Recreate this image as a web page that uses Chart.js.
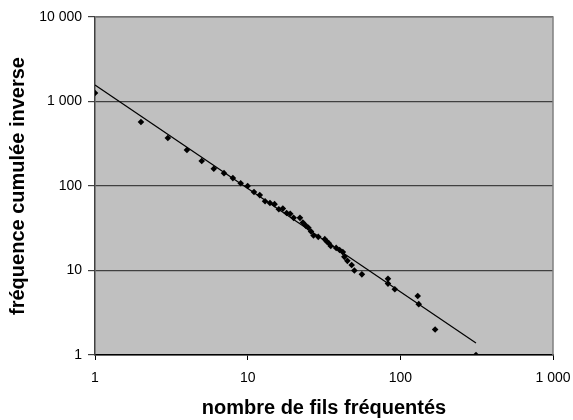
<!DOCTYPE html>
<html>
<head>
<meta charset="utf-8">
<script src="https://cdn.jsdelivr.net/npm/chart.js@4/dist/chart.umd.min.js"></script>
<style>
  html, body { margin: 0; padding: 0; background: #fff; }
  #wrap { width: 573px; height: 420px; }
</style>
</head>
<body>
<div id="wrap"><canvas id="graphe" width="573" height="420"></canvas></div>
<script>
// nombre de fils fréquentés / fréquence cumulée inverse
const fils = [1, 2, 3, 4, 5, 6, 7, 8, 9, 10, 11, 12, 13, 14, 15, 16, 17, 18, 19, 20,
  22, 23, 24, 25, 26, 27, 29, 32, 33, 34, 35, 38, 40, 42, 43, 45, 48, 50, 56,
  83, 83, 92, 130, 132, 169, 313];
const freq = [1260, 572, 370, 267, 198, 160, 142, 124, 108, 100, 85, 78, 66, 63, 61, 53, 54, 48, 47, 42,
  42, 37, 34, 32, 29, 26, 25, 23.5, 22, 21, 19.5, 18.5, 17.5, 16.5, 14.5, 13, 11.6, 10, 9,
  8, 7, 6, 5, 4, 2, 1];

// courbe de tendance (puissance), extrémités
const tendanceX = [1, 313];
const tendanceY = [1567, 1.39];

const decadesX = [1, 10, 100, 1000];
const decadesY = [1, 10, 100, 1000, 10000];

const police = 'Liberation Sans, Arial, sans-serif';

function formatNombre(v) {
    return String(v).replace(/\B(?=(\d{3})+(?!\d))/g, ' ');
}

// fond gris et cadre de la zone de tracé
const fondZone = {
    id: 'fondZone',
    beforeDraw(chart) {
        const a = chart.chartArea;
        const c = chart.ctx;
        c.save();
        c.fillStyle = '#c0c0c0';
        c.fillRect(a.left, a.top, a.right - a.left, a.bottom - a.top);
        c.restore();
    },
    afterDatasetsDraw(chart) {
        const a = chart.chartArea;
        const c = chart.ctx;
        c.save();
        c.strokeStyle = '#808080';
        c.lineWidth = 1.5;
        c.beginPath();
        c.moveTo(a.left, a.top);
        c.lineTo(a.right, a.top);
        c.lineTo(a.right, a.bottom);
        c.stroke();
        c.restore();
    }
};

const ctx = document.getElementById('graphe').getContext('2d');

new Chart(ctx, {
    type: 'scatter',
    data: {
        datasets: [{
            label: 'tendance',
            data: tendanceX.map((x, i) => ({ x: x, y: tendanceY[i] })),
            showLine: true,
            borderColor: '#000',
            borderWidth: 1.2,
            pointRadius: 0,
            fill: false,
            order: 2
        }, {
            label: 'fils',
            data: fils.map((x, i) => ({ x: x, y: freq[i] })),
            pointStyle: 'rectRot',
            pointRadius: 3.3,
            backgroundColor: '#000',
            borderColor: '#000',
            borderWidth: 0,
            order: 1
        }]
    },
    options: {
        responsive: false,
        animation: false,
        layout: { padding: { left: 0, right: 20, top: 17, bottom: 0 } },
        plugins: {
            legend: { display: false },
            tooltip: { enabled: false }
        },
        scales: {
            x: {
                type: 'logarithmic',
                min: 1,
                max: 1000,
                afterBuildTicks: (axis) => { axis.ticks = decadesX.map(v => ({ value: v })); },
                afterFit: (axis) => {
                    axis.height = 65;
                    axis.paddingLeft = 0;
                    axis.paddingRight = 0;
                },
                ticks: {
                    callback: (v) => formatNombre(v),
                    color: '#000',
                    font: { family: police, size: 14 },
                    padding: 10,
                    maxRotation: 0
                },
                grid: { drawOnChartArea: false, drawTicks: true, tickLength: 5, color: '#000' },
                border: { color: '#000', width: 1.5 },
                title: {
                    display: true,
                    text: 'nombre de fils fréquentés',
                    color: '#000',
                    font: { family: police, size: 20, weight: 'bold' },
                    padding: { top: 4, bottom: 0 }
                }
            },
            y: {
                type: 'logarithmic',
                min: 1,
                max: 10000,
                afterBuildTicks: (axis) => { axis.ticks = decadesY.map(v => ({ value: v })); },
                afterFit: (axis) => {
                    axis.width = 95;
                    axis.paddingTop = 0;
                    axis.paddingBottom = 0;
                },
                ticks: {
                    callback: (v) => formatNombre(v),
                    color: '#000',
                    font: { family: police, size: 14 },
                    padding: 6
                },
                grid: { color: '#404040', lineWidth: 1.2, tickLength: 7, tickColor: '#404040' },
                border: { color: '#404040', width: 1.5 },
                title: {
                    display: true,
                    text: 'fréquence cumulée inverse',
                    color: '#000',
                    font: { family: police, size: 20, weight: 'bold' },
                    padding: { top: 6, bottom: 0 }
                }
            }
        }
    },
    plugins: [fondZone]
});
</script>
</body>
</html>
